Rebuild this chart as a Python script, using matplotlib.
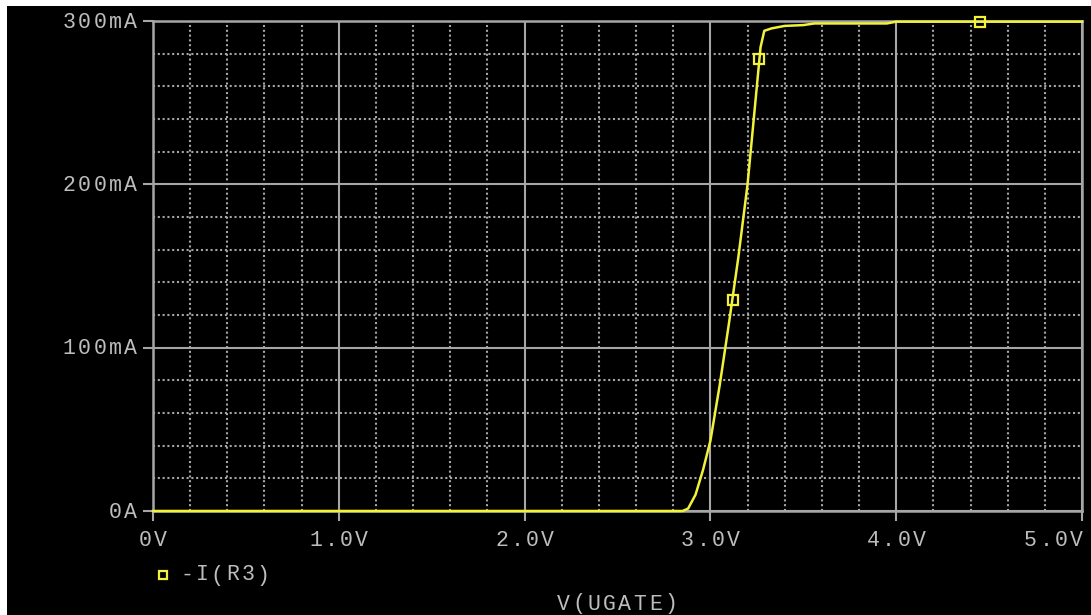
import matplotlib
matplotlib.use("Agg")
import matplotlib.pyplot as plt
import matplotlib.transforms as mtransforms
from matplotlib.patches import Rectangle
from matplotlib.lines import Line2D
import numpy as np

# sweep data: V(UGATE) in volts, -I(R3) in mA
v_gate = [0.0, 2.80, 2.85, 2.88, 2.92, 2.96, 3.00, 3.05, 3.10, 3.15, 3.20,
          3.24, 3.27, 3.29, 3.33, 3.40, 3.50, 3.56, 3.95, 4.00, 5.00]
i_r3 = [0.0, 0.0, 0.0, 1.5, 10.0, 25.0, 43.0, 77.0, 115.0, 155.0, 200.0,
        248.0, 284.0, 294.0, 295.5, 297.0, 297.5, 298.5, 298.5, 299.6, 299.6]

# trace markers
mark_v = [3.12, 3.26, 4.45]
mark_i = [129.0, 277.0, 299.6]

x_ticks = [0, 1, 2, 3, 4, 5]
x_labels = ["0V", "1.0V", "2.0V", "3.0V", "4.0V", "5.0V"]
y_ticks = [0, 100, 200, 300]
y_labels = ["0A", "100mA", "200mA", "300mA"]
legend_label = "-I(R3)"
x_title = "V(UGATE)"

W, H = 1091, 615
FG = "#bdbdbd"
GRID = "#a6a6a6"
YEL = "#f2f23a"
FONT = "Liberation Mono"
FS = 15.5
PITCH = 15.3

fig = plt.figure(figsize=(W / 100, H / 100), dpi=100, facecolor="white")
fig.patches.append(Rectangle((7 / W, 0), 1 - 7 / W, (H - 6) / H,
                             transform=fig.transFigure, facecolor="black",
                             edgecolor="none", zorder=-5))

ax = fig.add_axes([153 / W, 1 - 511 / H, (1082 - 153) / W, (511 - 21) / H])
ax.set_facecolor("black")
ax.set_xlim(0, 5)
ax.set_ylim(0, 300)

ax.set_xticks(x_ticks)
ax.set_yticks(y_ticks)
ax.set_xticks(np.arange(0, 5.01, 0.2), minor=True)
ax.set_yticks(np.arange(0, 300.1, 20), minor=True)
ax.set_xticklabels([])
ax.set_yticklabels([])
ax.tick_params(which="major", direction="out", length=7.5, width=1.5,
               color=GRID, top=False, right=False)
ax.tick_params(which="minor", length=0)
ax.grid(which="major", color=GRID, linewidth=1.5, linestyle="-")
ax.grid(which="minor", color=GRID, linewidth=1.5, linestyle=(0, (1, 1.3)))
ax.set_axisbelow(True)
for s in ax.spines.values():
    s.set_color(GRID)
    s.set_linewidth(1.8)


def spaced(x, y, s, trans, ha="left", dx=0, dy=0):
    # monospace text with wide letter spacing, one glyph per cell
    n = len(s)
    if ha == "center":
        start = -PITCH * n / 2
    elif ha == "right":
        start = -PITCH * n
    else:
        start = 0
    for k, ch in enumerate(s):
        t = mtransforms.offset_copy(trans, fig=fig, x=dx + start + PITCH * (k + 0.5),
                                    y=dy, units="dots")
        ax.text(x, y, ch, transform=t, ha="center", va="center", fontsize=FS,
                family=FONT, color=FG, clip_on=False)


xtrans = mtransforms.blended_transform_factory(ax.transData, ax.transAxes)
for xv, lab in zip(x_ticks, x_labels):
    if xv == x_ticks[-1]:
        spaced(xv, 0, lab, xtrans, ha="right", dx=2, dy=-30)
    else:
        spaced(xv, 0, lab, xtrans, ha="center", dy=-30)

ytrans = mtransforms.blended_transform_factory(ax.transAxes, ax.transData)
for yv, lab in zip(y_ticks, y_labels):
    spaced(0, yv, lab, ytrans, ha="right", dx=-15, dy=-1)

ax.plot(v_gate, i_r3, color=YEL, linewidth=1.8, zorder=3, clip_on=False)
ax.plot(mark_v, mark_i, linestyle="none", marker="s", markersize=6.5,
        markerfacecolor="none", markeredgecolor=YEL, markeredgewidth=1.6,
        zorder=4, clip_on=False)

# legend and axis title, placed in pixel coordinates (origin top-left)
pix = mtransforms.Affine2D().scale(1, -1).translate(0, H)
fig.add_artist(Line2D([163], [575], transform=pix, linestyle="none", marker="s",
                      markersize=5.5, markerfacecolor="none", markeredgecolor=YEL,
                      markeredgewidth=1.6))
spaced(179, 575, legend_label, pix, ha="left")
spaced(617, 604, x_title, pix, ha="center")

fig.savefig("out.png", dpi=100, facecolor="white")
